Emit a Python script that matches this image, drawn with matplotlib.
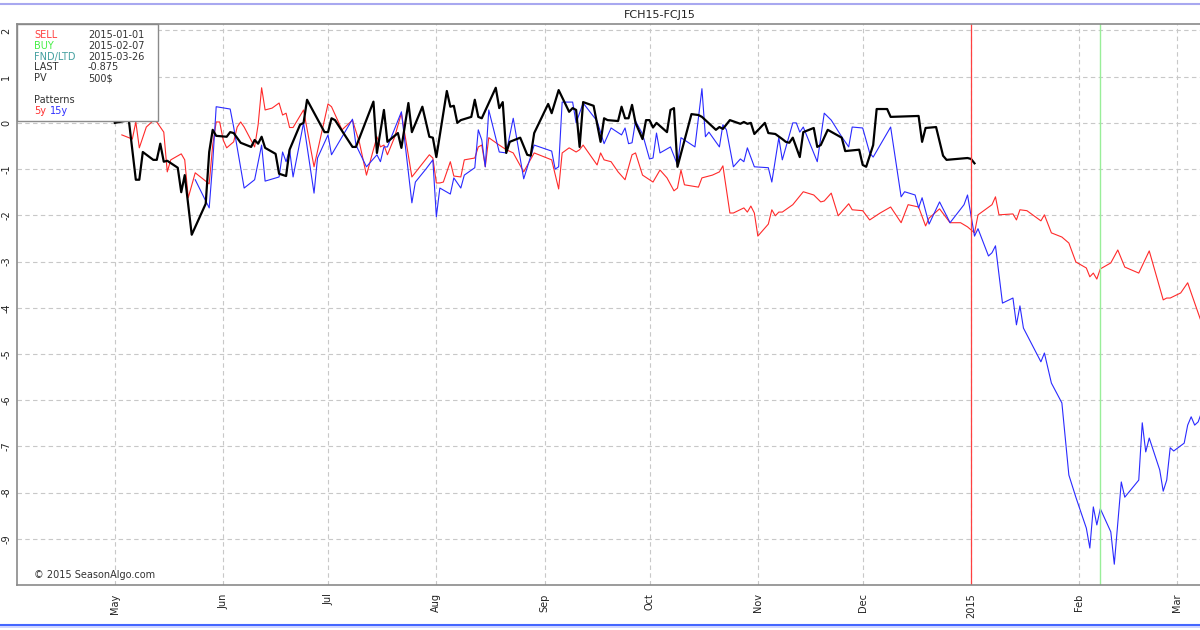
import matplotlib
matplotlib.use("Agg")
import matplotlib.pyplot as plt
import pandas as pd
from matplotlib.lines import Line2D

# current spread (black)
cur_dates = ["2014-05-01", "2014-05-05", "2014-05-07", "2014-05-08", "2014-05-09", "2014-05-12",
             "2014-05-13", "2014-05-14", "2014-05-15", "2014-05-16", "2014-05-19", "2014-05-20",
             "2014-05-21", "2014-05-23", "2014-05-27", "2014-05-28", "2014-05-29", "2014-05-30",
             "2014-06-02", "2014-06-03", "2014-06-04", "2014-06-06", "2014-06-09", "2014-06-10",
             "2014-06-11", "2014-06-12", "2014-06-13", "2014-06-16", "2014-06-17", "2014-06-19",
             "2014-06-20", "2014-06-23", "2014-06-24", "2014-06-25", "2014-06-30", "2014-07-01",
             "2014-07-02", "2014-07-03", "2014-07-08", "2014-07-09", "2014-07-14", "2014-07-15",
             "2014-07-17", "2014-07-18", "2014-07-21", "2014-07-22", "2014-07-24", "2014-07-25",
             "2014-07-28", "2014-07-30", "2014-07-31", "2014-08-01", "2014-08-04", "2014-08-05",
             "2014-08-06", "2014-08-07", "2014-08-08", "2014-08-11", "2014-08-12", "2014-08-13",
             "2014-08-14", "2014-08-18", "2014-08-19", "2014-08-20", "2014-08-21", "2014-08-22",
             "2014-08-25", "2014-08-27", "2014-08-28", "2014-08-29", "2014-09-02", "2014-09-03",
             "2014-09-05", "2014-09-08", "2014-09-09", "2014-09-10", "2014-09-11", "2014-09-12",
             "2014-09-15", "2014-09-17", "2014-09-18", "2014-09-19", "2014-09-22", "2014-09-23",
             "2014-09-24", "2014-09-25", "2014-09-26", "2014-09-27", "2014-09-29", "2014-09-30",
             "2014-10-01", "2014-10-02", "2014-10-03", "2014-10-06", "2014-10-07", "2014-10-08",
             "2014-10-09", "2014-10-13", "2014-10-15", "2014-10-16", "2014-10-20", "2014-10-21",
             "2014-10-22", "2014-10-24", "2014-10-27", "2014-10-28", "2014-10-29", "2014-10-30",
             "2014-10-31", "2014-11-03", "2014-11-04", "2014-11-06", "2014-11-08", "2014-11-09",
             "2014-11-10", "2014-11-11", "2014-11-13", "2014-11-14", "2014-11-17", "2014-11-18",
             "2014-11-19", "2014-11-21", "2014-11-25", "2014-11-26", "2014-11-30", "2014-12-01",
             "2014-12-02", "2014-12-04", "2014-12-05", "2014-12-08", "2014-12-09", "2014-12-17",
             "2014-12-18", "2014-12-19", "2014-12-22", "2014-12-24", "2014-12-25", "2014-12-31",
             "2015-01-01", "2015-01-02"]
cur_vals = [0.0, 0.06, -1.23, -1.23, -0.63, -0.8,
            -0.8, -0.45, -0.84, -0.82, -0.97, -1.5,
            -1.13, -2.42, -1.75, -0.63, -0.15, -0.28,
            -0.3, -0.2, -0.22, -0.43, -0.52, -0.37,
            -0.45, -0.3, -0.54, -0.67, -1.1, -1.15,
            -0.58, -0.04, 0.0, 0.5, -0.2, -0.2,
            0.1, 0.06, -0.52, -0.52, 0.46, -0.65,
            0.28, -0.41, -0.22, -0.54, 0.43, -0.2,
            0.35, -0.3, -0.32, -0.74, 0.69, 0.35,
            0.37, 0.0, 0.06, 0.13, 0.5, 0.13,
            0.1, 0.76, 0.32, 0.45, -0.65, -0.41,
            -0.32, -0.69, -0.71, -0.22, 0.41, 0.21,
            0.71, 0.24, 0.32, 0.28, -0.52, 0.45,
            0.37, -0.41, 0.1, 0.06, 0.04, 0.35,
            0.1, 0.1, 0.39, 0.0, -0.35, 0.06,
            0.06, -0.1, 0.0, -0.2, 0.28, 0.32,
            -0.95, 0.19, 0.17, 0.13, -0.15, -0.09,
            -0.13, 0.06, -0.02, 0.02, -0.02, 0.0,
            -0.24, 0.0, -0.22, -0.24, -0.35, -0.41,
            -0.43, -0.32, -0.74, -0.2, -0.11, -0.52,
            -0.48, -0.15, -0.32, -0.61, -0.58, -0.91,
            -0.95, -0.48, 0.3, 0.3, 0.13, 0.15,
            -0.41, -0.11, -0.09, -0.71, -0.8, -0.76,
            -0.78, -0.875]

# 5y pattern (red)
p5_dates = ["2014-05-03", "2014-05-06", "2014-05-07", "2014-05-08", "2014-05-10", "2014-05-12",
            "2014-05-13", "2014-05-15", "2014-05-16", "2014-05-17", "2014-05-20", "2014-05-21",
            "2014-05-22", "2014-05-24", "2014-05-28", "2014-05-29", "2014-05-30", "2014-05-31",
            "2014-06-01", "2014-06-02", "2014-06-04", "2014-06-05", "2014-06-06", "2014-06-07",
            "2014-06-10", "2014-06-11", "2014-06-12", "2014-06-13", "2014-06-15", "2014-06-17",
            "2014-06-18", "2014-06-19", "2014-06-20", "2014-06-21", "2014-06-24", "2014-06-27",
            "2014-07-01", "2014-07-02", "2014-07-05", "2014-07-08", "2014-07-10", "2014-07-12",
            "2014-07-15", "2014-07-16", "2014-07-17", "2014-07-18", "2014-07-20", "2014-07-22",
            "2014-07-25", "2014-07-30", "2014-07-31", "2014-08-01", "2014-08-02", "2014-08-03",
            "2014-08-05", "2014-08-06", "2014-08-08", "2014-08-09", "2014-08-12", "2014-08-13",
            "2014-08-14", "2014-08-15", "2014-08-16", "2014-08-19", "2014-08-21", "2014-08-23",
            "2014-08-26", "2014-08-29", "2014-09-03", "2014-09-05", "2014-09-06", "2014-09-08",
            "2014-09-10", "2014-09-11", "2014-09-12", "2014-09-16", "2014-09-17", "2014-09-18",
            "2014-09-20", "2014-09-22", "2014-09-24", "2014-09-26", "2014-09-27", "2014-09-29",
            "2014-10-02", "2014-10-04", "2014-10-06", "2014-10-08", "2014-10-09", "2014-10-10",
            "2014-10-11", "2014-10-15", "2014-10-16", "2014-10-19", "2014-10-21", "2014-10-22",
            "2014-10-24", "2014-10-25", "2014-10-28", "2014-10-29", "2014-10-30", "2014-10-31",
            "2014-11-01", "2014-11-04", "2014-11-05", "2014-11-06", "2014-11-07", "2014-11-08",
            "2014-11-11", "2014-11-14", "2014-11-17", "2014-11-19", "2014-11-20", "2014-11-22",
            "2014-11-24", "2014-11-27", "2014-11-28", "2014-12-01", "2014-12-03", "2014-12-06",
            "2014-12-09", "2014-12-12", "2014-12-14", "2014-12-17", "2014-12-19", "2014-12-20",
            "2014-12-23", "2014-12-26", "2014-12-27", "2014-12-29", "2014-12-31", "2015-01-02",
            "2015-01-03", "2015-01-07", "2015-01-08", "2015-01-09", "2015-01-13", "2015-01-14",
            "2015-01-15", "2015-01-17", "2015-01-21", "2015-01-22", "2015-01-24", "2015-01-27",
            "2015-01-29", "2015-01-31", "2015-02-03", "2015-02-04", "2015-02-05", "2015-02-06",
            "2015-02-07", "2015-02-10", "2015-02-12", "2015-02-14", "2015-02-18", "2015-02-21",
            "2015-02-25", "2015-02-26", "2015-02-27", "2015-03-02", "2015-03-04", "2015-03-05",
            "2015-03-08", "2015-03-10"]
p5_vals = [-0.26, -0.35, 0.02, -0.54, -0.09, 0.05,
           0.02, -0.2, -1.06, -0.8, -0.67, -0.8,
           -1.62, -1.08, -1.32, -0.48, 0.02, 0.02,
           -0.37, -0.54, -0.41, -0.09, 0.02, -0.09,
           -0.52, -0.04, 0.76, 0.28, 0.32, 0.43,
           0.17, 0.21, -0.1, -0.1, 0.28, -0.95,
           0.41, 0.35, -0.15, 0.06, -0.43, -1.13,
           -0.3, -0.52, -0.48, -0.69, -0.32, 0.21,
           -1.17, -0.69, -0.76, -1.3, -1.3, -1.28,
           -0.84, -1.15, -1.17, -0.8, -0.76, -0.52,
           -0.48, -0.95, -0.32, -0.48, -0.58, -0.65,
           -1.06, -0.65, -0.8, -1.43, -0.65, -0.54,
           -0.63, -0.58, -0.48, -0.91, -0.65, -0.8,
           -0.84, -1.06, -1.23, -0.69, -0.65, -1.13,
           -1.28, -1.02, -1.19, -1.47, -1.41, -1.02,
           -1.34, -1.39, -1.19, -1.13, -1.06, -0.93,
           -1.95, -1.95, -1.84, -1.93, -1.8, -1.95,
           -2.45, -2.19, -1.88, -2.01, -1.93, -1.93,
           -1.77, -1.49, -1.56, -1.71, -1.69, -1.52,
           -2.01, -1.75, -1.88, -1.9, -2.1, -1.95,
           -1.82, -2.16, -1.77, -1.82, -2.23, -2.06,
           -1.86, -2.16, -2.16, -2.16, -2.25, -2.38,
           -1.99, -1.77, -1.6, -1.99, -1.97, -2.1,
           -1.88, -1.9, -2.12, -1.99, -2.38, -2.47,
           -2.6, -3.01, -3.14, -3.33, -3.25, -3.38,
           -3.16, -3.03, -2.75, -3.12, -3.25, -2.77,
           -3.83, -3.79, -3.79, -3.68, -3.46, -3.68,
           -4.33, -4.6]

# 15y pattern (blue)
p15_dates = ["2014-05-24", "2014-05-28", "2014-05-29", "2014-05-30", "2014-06-03", "2014-06-04",
             "2014-06-07", "2014-06-10", "2014-06-12", "2014-06-13", "2014-06-17", "2014-06-18",
             "2014-06-19", "2014-06-20", "2014-06-21", "2014-06-24", "2014-06-27", "2014-06-28",
             "2014-07-01", "2014-07-02", "2014-07-08", "2014-07-09", "2014-07-12", "2014-07-15",
             "2014-07-16", "2014-07-17", "2014-07-18", "2014-07-22", "2014-07-25", "2014-07-26",
             "2014-07-29", "2014-07-31", "2014-08-01", "2014-08-02", "2014-08-05", "2014-08-06",
             "2014-08-08", "2014-08-09", "2014-08-12", "2014-08-13", "2014-08-14", "2014-08-15",
             "2014-08-16", "2014-08-19", "2014-08-21", "2014-08-23", "2014-08-26", "2014-08-29",
             "2014-09-03", "2014-09-04", "2014-09-05", "2014-09-06", "2014-09-09", "2014-09-10",
             "2014-09-12", "2014-09-16", "2014-09-18", "2014-09-20", "2014-09-23", "2014-09-24",
             "2014-09-25", "2014-09-26", "2014-09-27", "2014-09-29", "2014-10-01", "2014-10-02",
             "2014-10-03", "2014-10-04", "2014-10-07", "2014-10-09", "2014-10-10", "2014-10-14",
             "2014-10-16", "2014-10-17", "2014-10-18", "2014-10-21", "2014-10-22", "2014-10-23",
             "2014-10-25", "2014-10-27", "2014-10-28", "2014-10-29", "2014-10-31", "2014-11-04",
             "2014-11-05", "2014-11-07", "2014-11-08", "2014-11-11", "2014-11-12", "2014-11-13",
             "2014-11-14", "2014-11-18", "2014-11-20", "2014-11-22", "2014-11-25", "2014-11-27",
             "2014-11-28", "2014-12-01", "2014-12-03", "2014-12-04", "2014-12-09", "2014-12-12",
             "2014-12-13", "2014-12-16", "2014-12-17", "2014-12-18", "2014-12-20", "2014-12-23",
             "2014-12-26", "2014-12-30", "2014-12-31", "2015-01-02", "2015-01-03", "2015-01-06",
             "2015-01-07", "2015-01-08", "2015-01-10", "2015-01-13", "2015-01-14", "2015-01-15",
             "2015-01-16", "2015-01-21", "2015-01-22", "2015-01-24", "2015-01-27", "2015-01-29",
             "2015-01-31", "2015-02-03", "2015-02-04", "2015-02-05", "2015-02-06", "2015-02-07",
             "2015-02-10", "2015-02-11", "2015-02-13", "2015-02-14", "2015-02-18", "2015-02-19",
             "2015-02-20", "2015-02-21", "2015-02-24", "2015-02-25", "2015-02-26", "2015-02-27",
             "2015-02-28", "2015-03-03", "2015-03-04", "2015-03-05", "2015-03-06", "2015-03-07",
             "2015-03-08", "2015-03-10"]
p15_vals = [-1.23, -1.84, -0.87, 0.35, 0.3, -0.09,
            -1.41, -1.23, -0.48, -1.26, -1.17, -0.63,
            -0.84, -0.58, -1.17, 0.0, -1.52, -0.76,
            -0.26, -0.69, 0.08, -0.48, -0.95, -0.69,
            -0.84, -0.52, -0.52, 0.24, -1.73, -1.28,
            -1.0, -0.8, -2.03, -1.41, -1.54, -1.19,
            -1.41, -1.13, -0.97, -0.15, -0.37, -0.95,
            0.28, -0.63, -0.65, 0.1, -1.21, -0.48,
            -0.61, -1.0, -0.95, 0.45, 0.45, 0.0,
            0.43, 0.04, -0.45, -0.11, -0.26, -0.11,
            -0.45, -0.43, 0.04, -0.24, -0.78, -0.76,
            -0.22, -0.65, -0.52, -0.91, -0.32, -0.52,
            0.74, -0.3, -0.2, -0.52, -0.04, -0.15,
            -0.95, -0.78, -0.84, -0.54, -0.95, -0.97,
            -1.28, -0.32, -0.8, 0.0, 0.0, -0.2,
            -0.09, -0.84, 0.21, 0.06, -0.3, -0.52,
            -0.09, -0.11, -0.65, -0.74, -0.09, -1.6,
            -1.49, -1.56, -1.84, -1.62, -2.19, -1.71,
            -2.16, -1.77, -1.56, -2.45, -2.29, -2.88,
            -2.81, -2.66, -3.9, -3.79, -4.37, -3.96,
            -4.44, -5.17, -4.98, -5.63, -6.06, -7.62,
            -8.1, -8.77, -9.2, -8.31, -8.7, -8.35,
            -8.85, -9.55, -7.77, -8.1, -7.73, -6.49,
            -7.12, -6.82, -7.51, -7.97, -7.73, -7.03,
            -7.1, -6.93, -6.54, -6.36, -6.54, -6.47,
            -6.26, -6.1]

month_ticks = ["2014-05-01", "2014-06-01", "2014-07-01", "2014-08-01", "2014-09-01", "2014-10-01",
               "2014-11-01", "2014-12-01", "2015-01-01", "2015-02-01", "2015-03-01"]
month_labels = ["May", "Jun", "Jul", "Aug", "Sep", "Oct", "Nov", "Dec", "2015", "Feb", "Mar"]

sell_date = "2015-01-01"
buy_date = "2015-02-07"

plt.rcParams['font.family'] = ['DejaVu Sans']

fig = plt.figure(figsize=(12, 6.3), dpi=100)
# axes runs past the right edge of the picture, like the original screenshot
ax = fig.add_axes([17 / 1200, 45 / 630, 1286 / 1200, 561 / 630])

ax.plot(pd.to_datetime(p5_dates), p5_vals, color='#ff2a2a', lw=0.8)
ax.plot(pd.to_datetime(p15_dates), p15_vals, color='#2a2aff', lw=0.8)
ax.plot(pd.to_datetime(cur_dates), cur_vals, color='black', lw=1.6)

ax.axvline(pd.Timestamp(sell_date), color='#ff4040', lw=0.9)
ax.axvline(pd.Timestamp(buy_date), color='#99ee99', lw=1.0)

ax.set_xlim(pd.Timestamp("2014-04-03"), pd.Timestamp("2015-04-06"))
ax.set_ylim(-10, 2.14)

ax.set_xticks(pd.to_datetime(month_ticks))
ax.set_xticklabels(month_labels, rotation=90, fontsize=7, color='#222222')
ax.set_yticks(range(-9, 3))
ax.set_yticklabels([str(v) for v in range(-9, 3)], rotation=90, fontsize=7,
                   color='#222222', va='center')
ax.tick_params(axis='both', length=0, pad=6)
ax.tick_params(axis='y', pad=4)
ax.grid(True, color='#c8c8c8', ls=(0, (4, 3)), lw=0.8)
ax.set_axisbelow(True)

for s in ['left', 'top', 'bottom']:
    ax.spines[s].set_color('#8a8a8a')
    ax.spines[s].set_linewidth(1.2)
ax.spines['right'].set_visible(False)

ax.set_title("FCH15-FCJ15", fontsize=8, pad=4, color='#222222')

# info box top-left
box = plt.Rectangle((17 / 1200, 1 - 121 / 630), 141 / 1200, 97 / 630, transform=fig.transFigure,
                    facecolor='white', edgecolor='#8a8a8a', lw=1.0, zorder=5)
fig.add_artist(box)
rows = [("SELL", "#ff4040", "2015-01-01"), ("BUY", "#44ee44", "2015-02-07"),
        ("FND/LTD", "#44a0a0", "2015-03-26"), ("LAST", "#333333", "-0.875"),
        ("PV", "#333333", "500$")]
for i, (lab, col, val) in enumerate(rows):
    yy = 1 - (35 + i * 10.8) / 630
    fig.text(34 / 1200, yy, lab, color=col, fontsize=7, va='center', zorder=6)
    fig.text(88 / 1200, yy, val, color='#333333', fontsize=7, va='center', zorder=6)
fig.text(34 / 1200, 1 - 100 / 630, "Patterns", color='#333333', fontsize=7, va='center', zorder=6)
fig.text(34 / 1200, 1 - 110.5 / 630, "5y", color='#ff3030', fontsize=7, va='center', zorder=6)
fig.text(50 / 1200, 1 - 110.5 / 630, "15y", color='#3030ff', fontsize=7, va='center', zorder=6)

fig.text(34 / 1200, 1 - 575 / 630, "\u00a9 2015 SeasonAlgo.com", color='#333333', fontsize=7, va='center')

# page border lines of the screenshot
fig.add_artist(Line2D([0, 1], [1 - 3.5 / 630] * 2, transform=fig.transFigure, color='#a8a8f0', lw=1.5))
fig.add_artist(Line2D([0, 1], [1 - 625 / 630] * 2, transform=fig.transFigure, color='#4466ff', lw=1.5))
fig.add_artist(Line2D([0, 1], [1 - 627 / 630] * 2, transform=fig.transFigure, color='#c8d0ff', lw=1.2))

fig.savefig("out.png", dpi=100)
